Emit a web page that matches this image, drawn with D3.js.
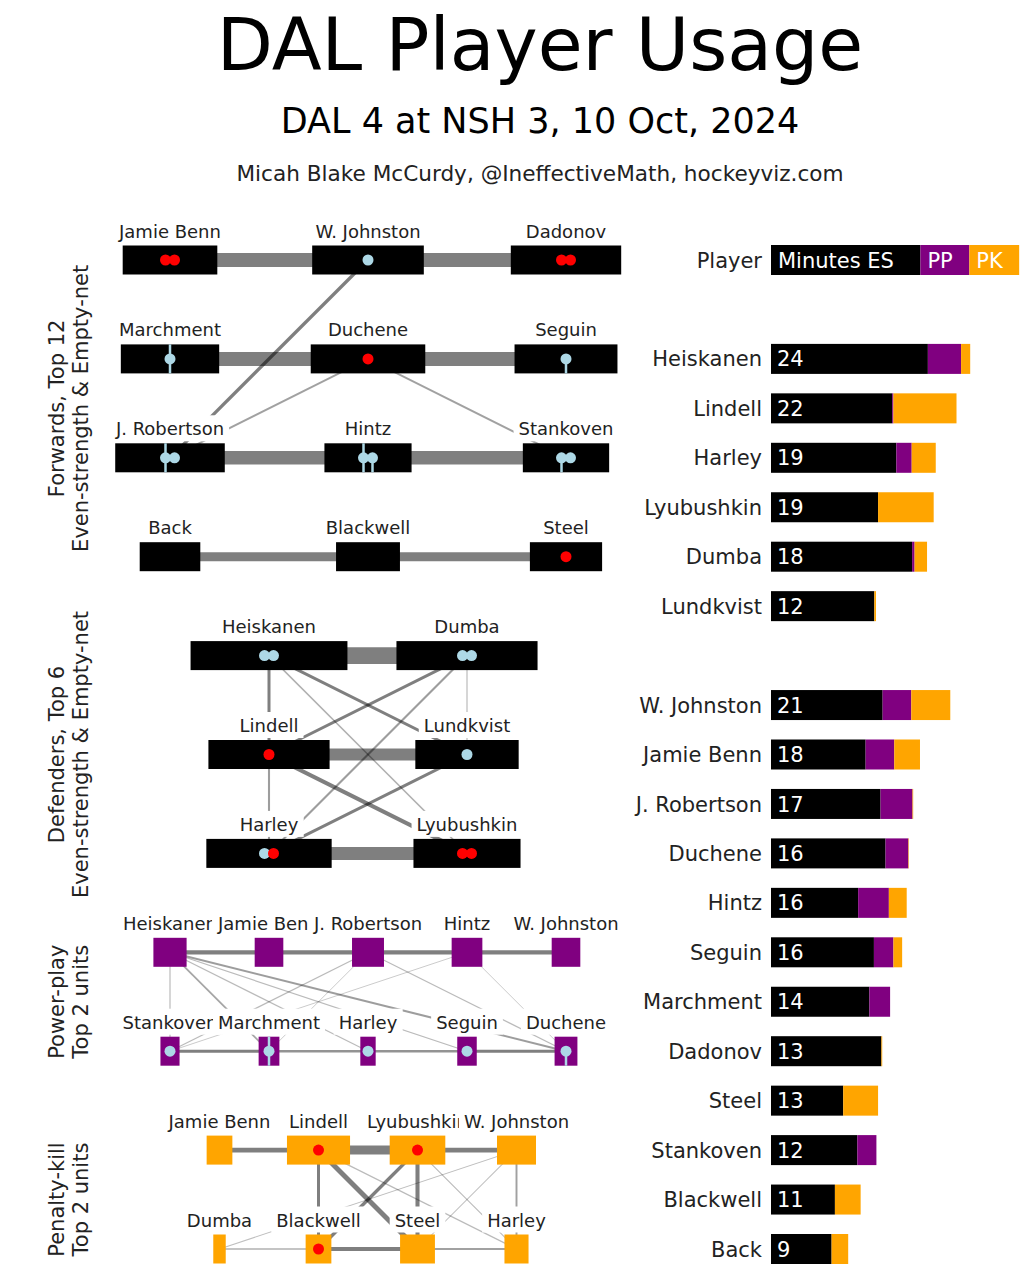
<!DOCTYPE html>
<html><head><meta charset="utf-8">
<script src="https://cdn.jsdelivr.net/npm/d3@7"></script>
<style>body{margin:0;background:#fff} text{font-family:"DejaVu Sans",sans-serif}</style>
</head><body><svg id="c" width="1026" height="1282"></svg>
<script>
// ---------------- DATA ----------------
const titleText = "DAL Player Usage";
const subtitleText = "DAL 4 at NSH 3, 10 Oct, 2024";
const creditText = "Micah Blake McCurdy, @IneffectiveMath, hockeyviz.com";

// Bar chart (minutes)
const defenders = ["Heiskanen","Lindell","Harley","Lyubushkin","Dumba","Lundkvist"];
const forwards = ["W. Johnston","Jamie Benn","J. Robertson","Duchene","Hintz","Seguin","Marchment","Dadonov","Steel","Stankoven","Blackwell","Back"];
const players = defenders.concat(forwards);
const esMin = [18.9,14.6,15.1,12.9,17.0,12.45, 13.45,11.4,13.2,13.8,10.5,12.4,11.85,13.3,8.7,10.4,7.7,7.3];
const ppMin = [4.0,0.15,1.85,0,0.3,0, 3.45,3.45,3.85,2.75,3.7,2.35,2.5,0,0,2.3,0,0];
const pkMin = [1.1,7.6,2.9,6.7,1.5,0.2, 4.7,3.1,0.08,0.06,2.15,1.05,0,0.1,4.2,0,3.1,2.0];
const totalLabels = ["24","22","19","19","18","12","21","18","17","16","16","16","14","13","13","12","11","9"];
const legendKeys = ["Minutes ES","PP","PK"];
const legendMin = [18,5.9,6];

// Network sections
const fLines = [["Jamie Benn","W. Johnston","Dadonov"],["Marchment","Duchene","Seguin"],["J. Robertson","Hintz","Stankoven"],["Back","Blackwell","Steel"]];
const dPairs = [["Heiskanen","Dumba"],["Lindell","Lundkvist"],["Harley","Lyubushkin"]];
const ppUnits = [["Heiskanen","Jamie Benn","J. Robertson","Hintz","W. Johnston"],["Stankoven","Marchment","Harley","Seguin","Duchene"]];
const pkUnits = [["Jamie Benn","Lindell","Lyubushkin","W. Johnston"],["Dumba","Blackwell","Steel","Harley"]];

// shared minutes between pairs
const fEdges = [["Jamie Benn","W. Johnston",9.3],["W. Johnston","Dadonov",9.3],["Marchment","Duchene",9.3],["Duchene","Seguin",9.3],
  ["J. Robertson","Hintz",9.0],["Hintz","Stankoven",9.0],["Back","Blackwell",6.0],["Blackwell","Steel",6.0],
  ["W. Johnston","J. Robertson",2.2],["Duchene","J. Robertson",1.3],["Duchene","Stankoven",1.3]];
const dEdges = [["Heiskanen","Dumba",11.3],["Lindell","Lundkvist",8.0],["Harley","Lyubushkin",8.7],
  ["Heiskanen","Lindell",2.0],["Heiskanen","Lundkvist",2.0],["Heiskanen","Lyubushkin",1.0],["Dumba","Lindell",2.0],
  ["Dumba","Harley",1.4],["Dumba","Lundkvist",0.8],["Lindell","Harley",1.4],["Lindell","Lyubushkin",2.7],["Lundkvist","Harley",2.0]];
const ppEdges = [["Heiskanen","Jamie Benn",2.8],["Jamie Benn","J. Robertson",2.8],["J. Robertson","Hintz",2.8],["Hintz","W. Johnston",2.8],
  ["Stankoven","Marchment",2.0],["Marchment","Harley",1.6],["Harley","Seguin",1.6],["Seguin","Duchene",2.0],
  ["Heiskanen","Stankoven",0.8],["Heiskanen","Marchment",1.2],["Heiskanen","Harley",0.8],["Heiskanen","Seguin",0.8],["Heiskanen","Duchene",1.4],
  ["J. Robertson","Stankoven",0.8],["J. Robertson","Marchment",0.6],["J. Robertson","Duchene",0.8],["Hintz","Stankoven",0.6],["Hintz","Duchene",0.6]];
const pkEdges = [["Jamie Benn","Lindell",3.3],["Lindell","Lyubushkin",6.0],["Lyubushkin","W. Johnston",3.3],
  ["Dumba","Blackwell",1.0],["Blackwell","Steel",2.7],["Steel","Harley",1.3],
  ["Lindell","Blackwell",2.0],["Lindell","Steel",3.3],["Lindell","Harley",0.8],["Lyubushkin","Blackwell",2.3],["Lyubushkin","Steel",2.7],
  ["Lyubushkin","Harley",0.8],["W. Johnston","Dumba",0.7],["W. Johnston","Steel",0.7],["W. Johnston","Harley",1.3]];

// on-ice events: [player, kind ("against" red / "for" blue), stem ("", "ud", "d")]
const fEvents = [["Jamie Benn","against",""],["Jamie Benn","against",""],["W. Johnston","for",""],["Dadonov","against",""],["Dadonov","against",""],
  ["Marchment","for","ud"],["Duchene","against",""],["Seguin","for","d"],
  ["J. Robertson","for","ud"],["J. Robertson","for",""],["Hintz","for","ud"],["Hintz","for","d"],["Stankoven","for","d"],["Stankoven","for",""],
  ["Steel","against",""]];
const dEvents = [["Heiskanen","for",""],["Heiskanen","for",""],["Dumba","for",""],["Dumba","for",""],["Lindell","against",""],["Lundkvist","for",""],
  ["Harley","for",""],["Harley","against",""],["Lyubushkin","against",""],["Lyubushkin","against",""]];
const ppEvents = [["Stankoven","for",""],["Marchment","for","ud"],["Harley","for",""],["Seguin","for",""],["Duchene","for","d"]];
const pkEvents = [["Lindell","against",""],["Lyubushkin","against",""],["Blackwell","against",""]];

const sectionLabels = [["Forwards, Top 12","Even-strength & Empty-net"],["Defenders, Top 6","Even-strength & Empty-net"],["Power-play","Top 2 units"],["Penalty-kill","Top 2 units"]];

// ---------------- DRAW ----------------
const svg = d3.select("#c");
const minScale = d3.scaleLinear().domain([0,1]).range([0,8.3]);
const slotY = d3.scaleLinear().domain([0,20]).range([260,1249]);
const rowY = k => slotY(2*k);
const wScale = d3.scaleLinear().domain([0,10]).range([0,15]);
const oScale = d3.scaleLinear().domain([0,2]).range([0.12,0.5]).clamp(true);
const evColor = {against:"#ff0000", "for":"#add8e6"};

svg.append("text").attr("x",540).attr("y",70).attr("text-anchor","middle").attr("font-size",73).attr("fill","#000").text(titleText);
svg.append("text").attr("x",540).attr("y",133).attr("text-anchor","middle").attr("font-size",35).attr("fill","#000").text(subtitleText);
svg.append("text").attr("x",540).attr("y",181).attr("text-anchor","middle").attr("font-size",21.6).attr("fill","#222").text(creditText);

// --- bar chart
const bx0 = 771, bh = 30;
const slots = [];
defenders.forEach((p,i)=>slots.push(2+i));
forwards.forEach((p,i)=>slots.push(9+i));
const barG = svg.append("g");
players.forEach((p,i)=>{
  const cy = slotY(slots[i]);
  const segs = [[esMin[i],"#000"],[ppMin[i],"#800080"],[pkMin[i],"#ffa500"]];
  let acc = 0;
  segs.forEach(([v,c])=>{
    if(v>0) barG.append("rect").attr("x",bx0+minScale(acc)).attr("y",cy-bh/2).attr("width",minScale(v)).attr("height",bh).attr("fill",c);
    acc += v;
  });
  barG.append("text").attr("x",762).attr("y",cy).attr("dy","0.36em").attr("text-anchor","end").attr("font-size",21).attr("fill","#222").text(p);
  barG.append("text").attr("x",bx0+6).attr("y",cy).attr("dy","0.36em").attr("font-size",21).attr("fill","#fff").text(totalLabels[i]);
});
// legend row
{
  const cy = slotY(0);
  const cols = ["#000","#800080","#ffa500"];
  let acc = 0;
  legendKeys.forEach((k,i)=>{
    barG.append("rect").attr("x",bx0+minScale(acc)).attr("y",cy-bh/2).attr("width",minScale(legendMin[i])).attr("height",bh).attr("fill",cols[i]);
    barG.append("text").attr("x",bx0+minScale(acc)+7).attr("y",cy).attr("dy","0.36em").attr("font-size",21).attr("fill","#fff").text(k);
    acc += legendMin[i];
  });
  barG.append("text").attr("x",762).attr("y",cy).attr("dy","0.36em").attr("text-anchor","end").attr("font-size",21).attr("fill","#222").text("Player");
}

// --- networks
const sections = [
  {rows:fLines, start:0, spacing:198, mins:esMin, fill:"#000", edges:fEdges, events:fEvents},
  {rows:dPairs, start:4, spacing:198, mins:esMin, fill:"#000", edges:dEdges, events:dEvents},
  {rows:ppUnits, start:7, spacing:99, mins:ppMin, fill:"#800080", edges:ppEdges, events:ppEvents},
  {rows:pkUnits, start:9, spacing:99, mins:pkMin, fill:"#ffa500", edges:pkEdges, events:pkEvents}
];
const boxH = 29;
sections.forEach((s,si)=>{
  const nodes = {};
  s.rows.forEach((row,r)=>{
    row.forEach((p,i)=>{
      nodes[p] = {name:p, x:368+(i-(row.length-1)/2)*s.spacing, y:rowY(s.start+r), w:minScale(s.mins[players.indexOf(p)])};
    });
  });
  const g = svg.append("g");
  // edges
  s.edges.forEach(([a,b,m])=>{
    const A=nodes[a], B=nodes[b];
    g.append("line").attr("x1",A.x).attr("y1",A.y).attr("x2",B.x).attr("y2",B.y)
      .attr("stroke","#000").attr("stroke-opacity",oScale(m)).attr("stroke-width",wScale(m));
  });
  // labels with white background
  s.rows.forEach(row=>row.forEach(p=>{
    const n = nodes[p];
    const lg = g.append("g");
    const rect = lg.append("rect").attr("fill","#fff");
    const t = lg.append("text").attr("x",n.x).attr("y",n.y-boxH/2-8).attr("text-anchor","middle").attr("font-size",18).attr("fill","#222").text(p);
    const bb = t.node().getBBox();
    rect.attr("x",bb.x-5).attr("y",bb.y-3).attr("width",bb.width+10).attr("height",bb.height+5);
  }));
  // boxes
  s.rows.forEach(row=>row.forEach(p=>{
    const n = nodes[p];
    g.append("rect").attr("x",n.x-n.w/2).attr("y",n.y-boxH/2).attr("width",n.w).attr("height",boxH).attr("fill",s.fill);
  }));
  // events
  const byPlayer = d3.group(s.events, d=>d[0]);
  byPlayer.forEach((evs,p)=>{
    const n = nodes[p];
    evs.forEach((e,i)=>{
      const cx = n.x + (i-(evs.length-1)/2)*9;
      if(e[2].includes("u")) g.append("line").attr("x1",cx).attr("x2",cx).attr("y1",n.y).attr("y2",n.y-boxH/2).attr("stroke","#add8e6").attr("stroke-width",2.5);
      if(e[2].includes("d")) g.append("line").attr("x1",cx).attr("x2",cx).attr("y1",n.y).attr("y2",n.y+boxH/2).attr("stroke","#add8e6").attr("stroke-width",2.5);
    });
    evs.forEach((e,i)=>{
      const cx = n.x + (i-(evs.length-1)/2)*9;
      g.append("circle").attr("cx",cx).attr("cy",n.y).attr("r",5.5).attr("fill",evColor[e[1]]);
    });
  });
  // section label
  const firstY = rowY(s.start), lastY = rowY(s.start+s.rows.length-1);
  const cy = (firstY+lastY)/2;
  sectionLabels[si].forEach((line,li)=>{
    svg.append("text").attr("transform",`translate(${64+li*23.5},${cy}) rotate(-90)`).attr("text-anchor","middle")
      .attr("font-size",21).attr("fill","#222").text(line);
  });
});
</script></body></html>
